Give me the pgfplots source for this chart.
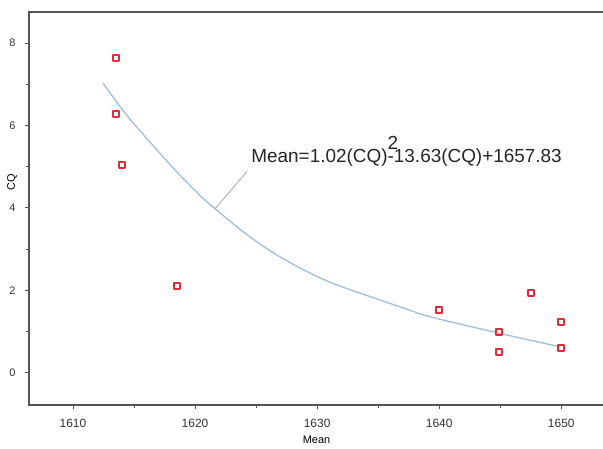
\documentclass[border=0pt]{standalone}
\usepackage{fontspec}
\setmainfont{Liberation Sans}
\usepackage{pgfplots}
\pgfplotsset{compat=1.18}
\usetikzlibrary{calc}
\definecolor{axisgray}{RGB}{85,85,85}
\definecolor{fitblue}{RGB}{160,190,215}
\definecolor{ptred}{RGB}{220,45,60}

\begin{document}
\begin{tikzpicture}
\begin{axis}[
  scale only axis,
  width=575bp, height=393bp,
  xmin=1606.4, xmax=1653.5,
  ymin=-0.78, ymax=8.75,
  xtick={1610,1620,1630,1640,1650},
  ytick={0,2,4,6,8},
  minor x tick num=1, minor y tick num=1,
  tick align=outside, tick pos=left,
  major tick length=4bp, minor tick length=3bp,
  tick style={draw=axisgray, line width=0.8bp},
  axis line style={draw=axisgray, line width=1.5bp},
  /pgf/number format/assume math mode=true,
  /pgf/number format/1000 sep={},
  xticklabel style={font=\fontsize{12}{14}\selectfont, text=black!80, yshift=-7bp},
  yticklabel style={font=\fontsize{11}{13}\selectfont, text=black!80, xshift=-6bp},
  xlabel={Mean},
  ylabel={CQ},
  xlabel style={font=\fontsize{11}{13}\selectfont, at={(rel axis cs:0.5,0)}, anchor=center, yshift=-35bp},
  ylabel style={font=\fontsize{11}{13}\selectfont, at={(rel axis cs:0,0.567)}, anchor=center, yshift=17bp},
  clip=false,
]
% fitted curve
\addplot[fitblue, line width=1.3bp, smooth] coordinates {
  (1612.46,7.03) (1614.26,6.30) (1616.15,5.65) (1618.36,4.92) (1620.41,4.30)
  (1621.64,3.98) (1623.44,3.54) (1625.33,3.12) (1627.38,2.74) (1629.43,2.42)
  (1631.64,2.13) (1636.80,1.60) (1639.26,1.36) (1644.92,0.96) (1649.92,0.63)
};
% observations
\addplot[only marks, mark=square, mark size=3.1bp, ptred, line width=1.9bp,
  mark options={line join=round}] coordinates {
  (1613.5,7.64) (1613.5,6.28) (1614.0,5.04) (1618.5,2.11)
  (1640.0,1.53) (1647.5,1.94) (1644.9,0.99) (1644.9,0.51)
  (1650.0,1.24) (1650.0,0.61)
};
\draw[gray!70, line width=0.8bp] (axis cs:1621.64,3.98) -- (axis cs:1624.3,4.9);
\node[anchor=base west, inner sep=0pt, font=\fontsize{19}{21}\selectfont, text=black!85]
  at (axis cs:1624.6,5.09) {Mean=1.02(CQ)\rlap{\raisebox{1.3ex}{2}}-13.63(CQ)+1657.83};
\end{axis}
\pgfresetboundingbox
\path ($(current axis.south west)+(-29bp,-44bp)$) rectangle ($(current axis.north east)+(-1bp,12bp)$);
\end{tikzpicture}
\end{document}
